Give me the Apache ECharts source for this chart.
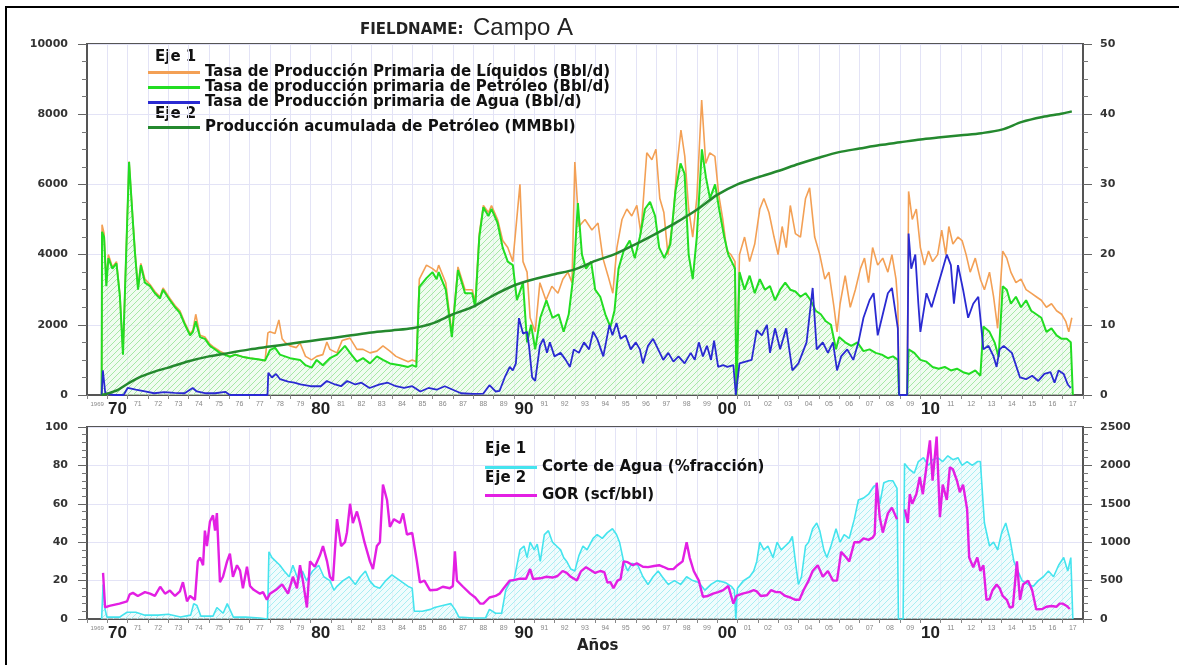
<!DOCTYPE html>
<html>
<head>
<meta charset="utf-8">
<script src="https://cdn.jsdelivr.net/npm/echarts@6/dist/echarts.min.js"></script>
<style>
  html, body { margin: 0; padding: 0; background: #fff; }
  #chart { width: 1179px; height: 665px; }
</style>
</head>
<body>
<div id="chart"></div>
<script>
// year labels on the x axis (one per year band)
var yearLabels = ['1969','70','71','72','73','74','75','76','77','78','79',
  '80','81','82','83','84','85','86','87','88','89',
  '90','91','92','93','94','95','96','97','98','99',
  '00','01','02','03','04','05','06','07','08','09',
  '10','11','12','13','14','15','16','17'];
var decadeLabels = ['70','80','90','00','10'];

// top chart, Eje 1 (Bbl/d): [year, value]
var liquidRate = [
  [1969.72,0],[1969.74,4850],[1969.84,4600],[1969.95,3200],[1970.05,4000],[1970.25,3650],[1970.45,3800],
  [1970.62,2850],[1970.77,1200],[1970.92,3950],[1971.07,6650],[1971.25,5050],[1971.36,4100],[1971.51,3050],
  [1971.65,3750],[1971.85,3300],[1972.10,3150],[1972.34,2950],[1972.59,2800],[1972.74,3050],[1973.08,2750],
  [1973.33,2550],[1973.57,2400],[1973.82,2050],[1974.07,1750],[1974.21,1850],[1974.35,2300],[1974.56,1700],
  [1974.80,1650],[1975.05,1450],[1975.20,1380],[1975.54,1250],[1976.03,1100],[1976.30,1150],[1976.70,1080],
  [1977.02,1050],[1977.40,1020],[1977.76,980],[1977.90,1770],[1978.00,1800],[1978.25,1750],[1978.44,2140],
  [1978.60,1600],[1978.74,1500],[1978.99,1400],[1979.30,1350],[1979.48,1480],[1979.75,1100],[1980.05,1000],
  [1980.30,1100],[1980.60,1150],[1980.80,1510],[1980.95,1300],[1981.30,1200],[1981.55,1550],[1981.94,1620],
  [1982.28,1300],[1982.58,1300],[1982.92,1200],[1983.26,1250],[1983.56,1400],[1983.90,1250],[1984.20,1100],
  [1984.40,1050],[1984.80,950],[1985.00,1000],[1985.20,950],[1985.35,3300],[1985.70,3700],[1986.00,3600],
  [1986.20,3500],[1986.30,3700],[1986.65,3200],[1986.95,1750],[1987.25,3650],[1987.60,3000],[1987.95,3000],
  [1988.10,2650],[1988.30,4600],[1988.50,5400],[1988.75,5200],[1988.90,5400],[1989.20,5000],[1989.45,4400],
  [1989.70,4200],[1989.95,3800],[1990.30,6000],[1990.45,3800],[1990.65,3500],[1990.80,2200],[1991.05,1800],
  [1991.28,3200],[1991.58,2700],[1991.87,3100],[1992.17,2900],[1992.41,3300],[1992.66,3500],[1992.86,3200],
  [1993.00,6640],[1993.20,4800],[1993.50,5000],[1993.84,4700],[1994.14,4900],[1994.38,3900],[1994.63,3400],
  [1994.87,2900],[1995.07,4200],[1995.32,5000],[1995.56,5300],[1995.80,5100],[1996.05,5400],[1996.25,4600],
  [1996.54,6900],[1996.79,6700],[1996.99,7000],[1997.18,5600],[1997.38,5200],[1997.58,4000],[1997.83,5000],
  [1998.02,6500],[1998.22,7550],[1998.41,6800],[1998.60,5300],[1998.80,4500],[1999.00,5600],[1999.24,8400],
  [1999.44,6600],[1999.64,6900],[1999.89,6800],[2000.08,5700],[2000.28,5000],[2000.48,4100],[2000.68,4000],
  [2000.88,3800],[2000.95,0],[2001.10,4000],[2001.35,4500],[2001.60,3800],[2001.85,4300],[2002.10,5300],
  [2002.30,5600],[2002.55,5200],[2002.80,4500],[2003.00,4000],[2003.20,4800],[2003.40,4200],[2003.60,5400],
  [2003.85,4600],[2004.10,4500],[2004.35,5600],[2004.55,5900],[2004.80,4500],[2005.05,4000],[2005.30,3300],
  [2005.50,3500],[2005.75,2500],[2005.90,1800],[2006.05,2600],[2006.30,3400],[2006.55,2500],[2006.80,3000],
  [2007.05,3600],[2007.25,3900],[2007.45,3200],[2007.65,4200],[2007.90,3700],[2008.15,3900],[2008.40,3500],
  [2008.60,4000],[2008.80,3300],[2008.89,2600],[2008.95,0],[2009.35,0],[2009.42,5800],[2009.60,5000],
  [2009.80,5300],[2010.00,4200],[2010.20,3700],[2010.40,4100],[2010.60,3800],[2010.85,4000],[2011.05,4700],
  [2011.25,4000],[2011.40,4800],[2011.60,4300],[2011.85,4500],[2012.05,4400],[2012.25,4000],[2012.45,3500],
  [2012.70,3900],[2012.95,3300],[2013.15,3000],[2013.40,3500],[2013.60,2800],[2013.80,1900],[2014.05,4100],
  [2014.25,3900],[2014.45,3500],[2014.70,3200],[2014.95,3300],[2015.20,3000],[2015.45,2900],[2015.70,2800],
  [2015.95,2700],[2016.20,2500],[2016.45,2600],[2016.70,2400],[2016.95,2300],[2017.15,2100],[2017.30,1800],
  [2017.45,2200]
];
var oilRate = [
  [1969.72,0],[1969.74,4650],[1969.84,4500],[1969.95,3100],[1970.05,3900],[1970.25,3600],[1970.45,3750],
  [1970.62,2800],[1970.77,1150],[1970.92,3900],[1971.07,6640],[1971.25,5000],[1971.36,4050],[1971.51,3000],
  [1971.65,3700],[1971.85,3200],[1972.10,3100],[1972.34,2900],[1972.59,2750],[1972.74,3000],[1973.08,2700],
  [1973.33,2500],[1973.57,2340],[1973.82,2000],[1974.07,1700],[1974.21,1800],[1974.35,2100],[1974.56,1650],
  [1974.80,1600],[1975.05,1400],[1975.20,1340],[1975.54,1200],[1976.03,1090],[1976.30,1150],[1976.70,1080],
  [1977.02,1050],[1977.40,1020],[1977.76,980],[1977.90,1150],[1978.00,1280],[1978.25,1350],[1978.49,1150],
  [1978.74,1100],[1978.99,1050],[1979.48,1000],[1979.75,850],[1980.05,780],[1980.30,1000],[1980.60,850],
  [1980.95,1050],[1981.30,1150],[1981.69,1400],[1981.94,1200],[1982.28,950],[1982.58,1050],[1982.92,900],
  [1983.26,1100],[1983.56,1000],[1983.90,900],[1984.40,850],[1984.80,800],[1985.00,850],[1985.20,800],
  [1985.35,3080],[1985.70,3330],[1986.00,3500],[1986.20,3300],[1986.30,3500],[1986.65,3000],[1986.95,1650],
  [1987.25,3560],[1987.60,2900],[1987.95,2900],[1988.10,2500],[1988.30,4500],[1988.50,5350],[1988.75,5100],
  [1988.90,5300],[1989.20,4900],[1989.45,4200],[1989.70,3800],[1989.95,3700],[1990.15,2700],[1990.45,3200],
  [1990.65,1500],[1990.85,2000],[1991.05,1300],[1991.30,2200],[1991.60,2700],[1991.90,2200],[1992.20,2300],
  [1992.45,1800],[1992.70,2300],[1992.95,3500],[1993.15,5470],[1993.35,4000],[1993.55,3600],[1993.80,3800],
  [1994.00,3000],[1994.25,2800],[1994.50,2300],[1994.75,1940],[1994.95,2400],[1995.15,3600],[1995.40,4100],
  [1995.70,4400],[1995.95,3900],[1996.20,4500],[1996.45,5300],[1996.70,5500],[1996.95,5100],[1997.15,4200],
  [1997.40,3900],[1997.70,4300],[1997.95,5800],[1998.20,6600],[1998.40,6300],[1998.60,4000],[1998.80,3300],
  [1999.00,4500],[1999.25,7000],[1999.45,6200],[1999.65,5600],[1999.90,6000],[2000.10,5300],[2000.35,4500],
  [2000.55,4000],[2000.80,3700],[2000.88,3600],[2000.95,0],[2001.10,3500],[2001.35,3000],[2001.60,3400],
  [2001.85,2900],[2002.10,3300],[2002.35,3000],[2002.60,3100],[2002.85,2700],[2003.10,3000],[2003.35,3200],
  [2003.60,3000],[2003.85,2950],[2004.10,2800],[2004.35,2900],[2004.60,2700],[2004.85,2400],[2005.10,2300],
  [2005.35,2100],[2005.60,2000],[2005.85,1300],[2006.00,1650],[2006.30,1500],[2006.60,1400],[2006.90,1500],
  [2007.20,1250],[2007.50,1300],[2007.80,1200],[2008.10,1150],[2008.40,1050],[2008.65,1100],[2008.89,1000],
  [2008.95,0],[2009.35,0],[2009.42,1300],[2009.70,1200],[2010.00,1000],[2010.30,950],[2010.60,800],
  [2010.90,750],[2011.20,800],[2011.50,700],[2011.80,750],[2012.10,650],[2012.40,600],[2012.70,700],
  [2012.95,550],[2013.10,1950],[2013.40,1800],[2013.65,1500],[2013.85,1080],[2014.05,3100],[2014.25,3000],
  [2014.45,2600],[2014.70,2800],[2014.95,2500],[2015.20,2700],[2015.45,2400],[2015.70,2300],[2015.95,2200],
  [2016.20,1800],[2016.45,1900],[2016.70,1700],[2016.95,1600],[2017.20,1600],[2017.40,1500],[2017.50,0]
];
var waterRate = [
  [1969.72,0],[1969.78,700],[1969.84,650],[1969.90,50],[1970.30,0],[1970.80,0],[1971.00,200],[1971.40,150],
  [1971.85,100],[1972.30,50],[1972.80,80],[1973.30,60],[1973.80,50],[1974.20,200],[1974.40,100],[1974.80,50],
  [1975.30,50],[1975.80,90],[1976.03,0],[1977.88,0],[1977.92,630],[1978.10,500],[1978.30,600],[1978.50,450],
  [1978.90,380],[1979.20,350],[1979.50,300],[1980.00,250],[1980.50,250],[1980.80,400],[1981.20,300],
  [1981.50,250],[1981.80,400],[1982.20,300],[1982.50,350],[1982.90,200],[1983.40,300],[1983.80,350],
  [1984.20,250],[1984.60,200],[1985.00,250],[1985.40,100],[1985.80,200],[1986.20,150],[1986.60,250],
  [1987.00,150],[1987.40,50],[1988.00,30],[1988.50,40],[1988.80,280],[1989.10,100],[1989.30,120],
  [1989.55,500],[1989.80,800],[1989.95,700],[1990.10,900],[1990.25,2190],[1990.45,1750],[1990.65,1800],
  [1990.75,1370],[1990.90,500],[1991.05,400],[1991.28,1400],[1991.45,1600],[1991.63,1200],[1991.77,1500],
  [1992.00,1100],[1992.30,1200],[1992.55,1000],[1992.76,800],[1992.95,1300],[1993.20,1200],[1993.45,1500],
  [1993.70,1300],[1993.90,1800],[1994.10,1600],[1994.40,1100],[1994.70,2000],[1994.85,1700],[1995.05,2050],
  [1995.25,1600],[1995.50,1700],[1995.75,1300],[1996.00,1500],[1996.20,1300],[1996.35,900],[1996.60,1400],
  [1996.85,1600],[1997.10,1300],[1997.35,1000],[1997.60,1200],[1997.85,950],[1998.10,1100],[1998.40,900],
  [1998.70,1200],[1998.90,1000],[1999.10,1500],[1999.30,1100],[1999.50,1400],[1999.70,1000],[1999.85,1550],
  [2000.05,800],[2000.30,850],[2000.50,800],[2000.80,850],[2000.92,0],[2001.10,900],[2001.40,950],
  [2001.70,1000],[2001.95,1850],[2002.20,1700],[2002.45,2000],[2002.60,1200],[2002.85,1900],[2003.10,1300],
  [2003.40,1900],[2003.70,700],[2004.00,900],[2004.40,1500],[2004.70,3050],[2004.90,1300],[2005.20,1500],
  [2005.45,1200],[2005.70,1500],[2005.90,700],[2006.10,1100],[2006.40,1300],[2006.70,1000],[2006.95,1500],
  [2007.20,2200],[2007.50,2700],[2007.70,2900],[2007.90,1700],[2008.15,2300],[2008.40,2900],[2008.60,3050],
  [2008.89,1900],[2008.95,0],[2009.35,0],[2009.42,4600],[2009.55,3600],[2009.75,4000],[2009.90,2600],
  [2010.00,1800],[2010.30,2900],[2010.55,2500],[2010.80,3000],[2011.10,3600],[2011.30,4000],[2011.50,3700],
  [2011.65,2600],[2011.85,3700],[2012.10,3000],[2012.35,2200],[2012.60,2600],[2012.85,2800],[2013.10,1300],
  [2013.35,1400],[2013.60,1100],[2013.75,800],[2013.90,1300],[2014.10,1400],[2014.50,1200],[2014.90,500],
  [2015.20,450],[2015.50,550],[2015.80,400],[2016.10,600],[2016.40,650],[2016.60,350],[2016.80,700],
  [2017.05,600],[2017.25,300],[2017.40,200]
];
// top chart, Eje 2 (MMBbl)
var cumOil = [
  [1969.72,0],[1970.00,0.2],[1970.50,0.7],[1971.00,1.6],[1971.50,2.4],[1972.00,3.0],[1972.50,3.5],[1973.00,3.9],
  [1974.00,4.8],[1975.00,5.5],[1976.00,6.0],[1977.00,6.5],[1978.00,6.9],[1979.00,7.3],[1980.00,7.7],
  [1981.00,8.1],[1982.00,8.5],[1983.00,8.9],[1984.00,9.2],[1985.00,9.5],[1986.00,10.2],[1987.00,11.5],
  [1988.00,12.6],[1989.00,14.2],[1990.00,15.6],[1991.00,16.5],[1992.00,17.2],[1993.00,17.9],[1994.00,19.1],
  [1995.00,20.1],[1996.00,21.5],[1997.00,23.0],[1998.00,24.6],[1999.00,26.4],[2000.00,28.5],[2001.00,30.0],
  [2002.00,31.0],[2003.00,31.9],[2004.00,32.9],[2005.00,33.8],[2006.00,34.6],[2007.00,35.1],[2008.00,35.6],
  [2009.00,36.0],[2010.00,36.4],[2011.00,36.7],[2012.00,37.0],[2013.00,37.3],[2014.00,37.8],[2015.00,38.9],
  [2016.00,39.6],[2017.00,40.1],[2017.45,40.4]
];

// bottom chart, Eje 1 (%)
var waterCut = [
  [1969.72,0],[1969.79,18],[1969.89,5],[1969.98,1],[1970.60,1],[1970.97,3.5],[1971.40,3.5],[1971.85,2],
  [1972.50,2],[1973.00,2.5],[1973.60,1],[1974.10,2],[1974.25,8],[1974.41,7],[1974.60,1.5],[1975.20,1.5],
  [1975.39,6],[1975.70,3],[1975.90,8],[1976.20,1],[1976.80,1],[1977.50,0.5],[1977.88,0],[1977.95,35],
  [1978.10,32],[1978.49,28],[1978.70,25],[1978.95,22],[1979.13,28],[1979.40,20],[1979.60,25],[1979.80,20],
  [1980.10,25],[1980.40,28],[1980.65,22],[1980.95,20],[1981.15,15],[1981.30,17],[1981.60,20],[1981.90,22],
  [1982.20,18],[1982.45,22],[1982.70,25],[1982.90,20],[1983.15,17],[1983.40,16],[1983.70,20],[1984.00,23],
  [1984.40,20],[1984.80,17],[1985.00,16],[1985.10,4],[1985.50,4],[1985.90,5],[1986.10,6],[1986.50,7],
  [1986.90,8],[1987.10,5],[1987.30,1],[1988.00,0.5],[1988.60,0.5],[1988.80,5],[1989.10,3],[1989.40,3],
  [1989.60,15],[1989.85,20],[1990.00,20],[1990.30,36],[1990.50,38],[1990.65,32],[1990.80,40],[1991.00,36],
  [1991.15,39],[1991.30,30],[1991.50,44],[1991.70,46],[1991.90,40],[1992.10,38],[1992.30,36],[1992.45,32],
  [1992.60,30],[1992.80,26],[1993.00,25],[1993.20,33],[1993.40,38],[1993.60,36],[1993.90,42],[1994.10,44],
  [1994.35,42],[1994.60,45],[1994.85,47],[1995.05,44],[1995.20,40],[1995.40,30],[1995.60,25],[1995.80,29],
  [1996.10,28],[1996.35,22],[1996.60,18],[1996.85,22],[1997.10,25],[1997.30,22],[1997.60,18],[1997.90,20],
  [1998.20,18],[1998.50,22],[1998.80,20],[1999.10,19],[1999.40,15],[1999.70,18],[2000.00,20],[2000.40,19],
  [2000.70,17],[2000.85,15],[2000.92,0],[2001.00,16],[2001.30,20],[2001.60,22],[2001.80,25],[2001.95,30],
  [2002.10,40],[2002.30,36],[2002.50,38],[2002.75,32],[2002.95,40],[2003.15,36],[2003.35,38],[2003.55,40],
  [2003.70,43],[2003.85,30],[2004.00,18],[2004.15,22],[2004.35,38],[2004.50,40],[2004.70,47],[2004.90,50],
  [2005.05,46],[2005.25,36],[2005.40,32],[2005.60,38],[2005.85,47],[2006.05,40],[2006.25,44],[2006.50,42],
  [2006.75,52],[2006.95,62],[2007.20,63],[2007.45,65],[2007.70,69],[2007.85,70],[2008.00,60],[2008.20,71],
  [2008.45,72],[2008.65,72],[2008.85,68],[2008.92,0],[2009.15,0],[2009.22,81],[2009.45,78],[2009.70,76],
  [2009.90,82],[2010.15,84],[2010.40,80],[2010.60,83],[2010.85,84],[2011.10,82],[2011.35,85],[2011.60,83],
  [2011.85,84],[2012.05,80],[2012.30,82],[2012.55,80],[2012.80,82],[2012.95,82],[2013.15,50],[2013.40,38],
  [2013.60,40],[2013.80,36],[2014.00,45],[2014.20,50],[2014.40,42],[2014.60,30],[2014.80,25],[2015.00,20],
  [2015.30,18],[2015.55,17],[2015.80,20],[2016.05,22],[2016.30,25],[2016.55,22],[2016.80,28],[2017.05,32],
  [2017.25,25],[2017.40,32],[2017.50,0]
];
// bottom chart, Eje 2 (scf/bbl)
var gor = [
  [1969.79,600],[1969.89,150],[1970.10,170],[1970.60,200],[1970.97,230],[1971.10,320],[1971.26,340],
  [1971.50,300],[1971.85,350],[1972.10,330],[1972.34,300],[1972.60,420],[1972.84,330],[1973.08,370],
  [1973.33,300],[1973.57,360],[1973.72,480],[1973.92,230],[1974.07,300],[1974.31,250],[1974.45,750],
  [1974.56,800],[1974.71,700],[1974.80,1150],[1974.90,950],[1975.05,1270],[1975.20,1350],[1975.30,1150],
  [1975.39,1380],[1975.54,480],[1975.69,550],[1975.89,750],[1976.03,850],[1976.18,550],[1976.38,700],
  [1976.53,630],[1976.67,400],[1976.87,680],[1977.02,430],[1977.20,380],[1977.51,330],[1977.66,350],
  [1977.85,250],[1978.00,330],[1978.30,380],[1978.60,450],[1978.89,330],[1979.13,550],[1979.33,400],
  [1979.48,700],[1979.62,500],[1979.82,150],[1979.97,750],[1980.21,680],[1980.46,830],[1980.61,950],
  [1980.81,750],[1980.95,550],[1981.10,500],[1981.30,1300],[1981.50,950],[1981.69,1000],[1981.79,1130],
  [1981.94,1500],[1982.08,1250],[1982.28,1400],[1982.43,1250],[1982.65,1000],[1982.92,750],[1983.07,650],
  [1983.26,950],[1983.41,1000],[1983.56,1750],[1983.76,1550],[1983.90,1200],[1984.10,1300],[1984.40,1250],
  [1984.55,1375],[1984.74,1100],[1985.00,1120],[1985.23,750],[1985.38,475],[1985.60,500],[1985.87,375],
  [1986.20,380],[1986.50,420],[1986.85,400],[1987.00,430],[1987.10,880],[1987.20,500],[1987.50,420],
  [1987.85,330],[1988.10,280],[1988.35,200],[1988.50,200],[1988.80,280],[1989.10,300],[1989.30,330],
  [1989.50,400],[1989.80,500],[1990.05,510],[1990.30,525],[1990.60,525],[1990.80,650],[1990.95,520],
  [1991.30,530],[1991.60,550],[1991.90,540],[1992.15,560],[1992.40,625],[1992.60,600],[1992.80,550],
  [1993.10,500],[1993.30,620],[1993.55,675],[1993.75,640],[1994.00,600],[1994.25,625],[1994.45,610],
  [1994.60,475],[1994.75,480],[1994.90,400],[1995.10,500],[1995.25,520],[1995.40,750],[1995.60,740],
  [1995.85,700],[1996.05,725],[1996.35,680],[1996.60,675],[1996.90,690],[1997.15,700],[1997.35,680],
  [1997.60,650],[1997.85,650],[1998.05,700],[1998.30,750],[1998.50,1000],[1998.65,800],[1998.85,625],
  [1999.10,500],[1999.30,290],[1999.55,300],[1999.80,330],[2000.05,350],[2000.30,375],[2000.55,430],
  [2000.80,200],[2000.95,300],[2001.25,330],[2001.55,350],[2001.80,375],[2001.95,360],[2002.15,300],
  [2002.45,310],[2002.65,375],[2002.90,350],[2003.10,350],[2003.35,300],[2003.60,280],[2003.85,250],
  [2004.05,250],[2004.25,375],[2004.50,500],[2004.70,625],[2004.95,700],[2005.20,550],[2005.45,625],
  [2005.70,500],[2005.90,500],[2006.10,875],[2006.35,800],[2006.50,750],[2006.75,1000],[2007.00,1000],
  [2007.20,1050],[2007.45,1030],[2007.65,1060],[2007.75,1100],[2007.85,1775],[2008.00,1325],[2008.15,1125],
  [2008.40,1375],[2008.60,1450],[2008.85,1300],[2008.88,null],[2009.20,null],[2009.24,1425],[2009.38,1250],
  [2009.48,1625],[2009.60,1500],[2009.80,1625],[2009.97,1850],[2010.12,1625],[2010.32,2025],[2010.47,2325],
  [2010.60,1800],[2010.80,2375],[2010.96,1325],[2011.10,1750],[2011.30,1550],[2011.45,1975],[2011.60,1950],
  [2011.80,1800],[2011.94,1650],[2012.10,1750],[2012.30,1425],[2012.40,800],[2012.60,675],[2012.80,800],
  [2012.95,625],[2013.10,700],[2013.25,250],[2013.40,260],[2013.55,375],[2013.75,450],[2013.90,400],
  [2014.05,300],[2014.25,250],[2014.40,150],[2014.55,160],[2014.75,750],[2014.90,250],[2015.05,450],
  [2015.30,500],[2015.50,375],[2015.70,125],[2016.00,130],[2016.20,160],[2016.45,170],[2016.70,160],
  [2016.85,200],[2017.00,200],[2017.20,170],[2017.35,130]
];

function hatch(lineColor, bgColor) {
  var c = document.createElement('canvas');
  c.width = 6; c.height = 6;
  var g = c.getContext('2d');
  g.fillStyle = bgColor;
  g.fillRect(0, 0, 6, 6);
  g.strokeStyle = lineColor;
  g.lineWidth = 1;
  g.beginPath();
  g.moveTo(0, 6); g.lineTo(6, 0);
  g.moveTo(-1, 1); g.lineTo(1, -1);
  g.moveTo(5, 7); g.lineTo(7, 5);
  g.stroke();
  return c;
}

var C_LIQ = '#f3a055', C_OIL = '#22dd22', C_WAT = '#2a2ad2', C_CUM = '#24892e';
var C_CUT = '#45e4ee', C_GOR = '#e31fe3';
var FONT = 'Liberation Sans';
var WIDE = 'DejaVu Sans';

function yearLabel(v) {
  if (v === '1969') return '{tiny|1969}';
  return decadeLabels.indexOf(v) >= 0 ? '{big|' + v + '}' : '{small|' + v + '}';
}

function bandAxis(grid) {
  return {
    type: 'category', gridIndex: grid, data: yearLabels, boundaryGap: true, position: 'bottom',
    axisLine: { show: true, lineStyle: { color: '#555', width: 2 } },
    axisTick: { show: true, interval: 0, length: 4, lineStyle: { color: '#888' } },
    splitLine: { show: true, interval: 0, lineStyle: { color: '#e3e3f6', width: 1 } },
    axisLabel: {
      interval: 0, margin: 5, formatter: yearLabel,
      rich: {
        tiny: { fontSize: 6, color: '#888', fontFamily: FONT, lineHeight: 8 },
        small: { fontSize: 7, color: '#888', fontFamily: FONT, lineHeight: 8 },
        big: { fontSize: 17, fontWeight: 'bold', color: '#222', fontFamily: FONT, lineHeight: 18 }
      }
    }
  };
}

function valueX(grid) {
  return { type: 'value', gridIndex: grid, min: 1969, max: 2018, show: false };
}

function yAx(grid, pos, max, step, split, minors) {
  return {
    type: 'value', gridIndex: grid, position: pos, min: 0, max: max, interval: step,
    axisLine: { show: true, lineStyle: { color: '#555', width: 2 } },
    axisTick: { show: true, length: 9, lineStyle: { color: '#666' } },
    minorTick: { show: true, splitNumber: minors, length: 5, lineStyle: { color: '#777' } },
    splitLine: { show: split, lineStyle: { color: '#e3e3f6' } },
    axisLabel: { margin: pos === 'left' ? 19 : 17, fontFamily: WIDE, fontWeight: 'bold',
      fontSize: 11, color: '#333', showMinLabel: true, showMaxLabel: true,
      formatter: function (v) { return String(v); } }
  };
}

var legendText = { fontFamily: WIDE, fontWeight: 'bold', fontSize: 15, color: '#111', lineHeight: 14.5 };
function legendAt(left, top, names, colors) {
  return {
    left: left, top: top, orient: 'vertical', icon: 'rect', itemWidth: 52, itemHeight: 3,
    itemGap: 0, padding: 0, selectedMode: false, textStyle: legendText,
    data: names.map(function (n, i) { return { name: n, itemStyle: { color: colors[i] } }; })
  };
}

function headText(x, y, text) {
  return { type: 'text', left: x, top: y, silent: true,
    style: { text: text, fill: '#111', font: 'bold 15px "DejaVu Sans"' } };
}

var N_LIQ = 'Tasa de Producción Primaria de Líquidos (Bbl/d)';
var N_OIL = 'Tasa de producción primaria de Petróleo (Bbl/d)';
var N_WAT = 'Tasa de Producción primaria de Agua (Bbl/d)';
var N_CUM = 'Producción acumulada de Petróleo (MMBbl)';
var N_CUT = 'Corte de Agua (%fracción)';
var N_GOR = 'GOR (scf/bbl)';

var option = {
  animation: false,
  backgroundColor: '#fff',
  textStyle: { fontFamily: FONT },
  grid: [
    { left: 87, top: 44, width: 996, height: 351, show: true, borderColor: '#555', borderWidth: 2, backgroundColor: 'transparent' },
    { left: 87, top: 427, width: 996, height: 192, show: true, borderColor: '#555', borderWidth: 2, backgroundColor: 'transparent' }
  ],
  xAxis: [valueX(0), bandAxis(0), valueX(1), bandAxis(1)],
  yAxis: [
    yAx(0, 'left', 10000, 2000, true, 4),
    yAx(0, 'right', 50, 10, false, 4),
    yAx(1, 'left', 100, 20, true, 5),
    yAx(1, 'right', 2500, 500, false, 5)
  ],
  legend: [
    legendAt(148, 65, [N_LIQ, N_OIL, N_WAT], [C_LIQ, C_OIL, C_WAT]),
    legendAt(148, 120, [N_CUM], [C_CUM]),
    legendAt(485, 460, [N_CUT], [C_CUT]),
    legendAt(485, 488, [N_GOR], [C_GOR])
  ],
  graphic: [
    { type: 'rect', silent: true, z: -1, shape: { x: 6, y: 7, width: 1200, height: 700 },
      style: { fill: 'none', stroke: '#000', lineWidth: 2 } },
    { type: 'text', left: 360, top: 23, silent: true,
      style: { text: 'FIELDNAME:', fill: '#222', font: 'bold 15px "DejaVu Sans"' } },
    { type: 'text', left: 473, top: 16, silent: true,
      style: { text: 'Campo A', fill: '#222', font: '24px "Liberation Sans"' } },
    headText(155, 50, 'Eje 1'),
    headText(155, 107, 'Eje 2'),
    headText(485, 442, 'Eje 1'),
    headText(485, 471, 'Eje 2'),
    { type: 'text', left: 577, top: 639, silent: true,
      style: { text: 'Años', fill: '#222', font: 'bold 15px "DejaVu Sans"' } }
  ],
  series: [
    { name: N_LIQ, type: 'line', xAxisIndex: 0, yAxisIndex: 0, data: liquidRate, symbol: 'none',
      color: C_LIQ, lineStyle: { color: C_LIQ, width: 1.6 } },
    { name: N_OIL, type: 'line', xAxisIndex: 0, yAxisIndex: 0, data: oilRate, symbol: 'none',
      color: C_OIL, lineStyle: { color: C_OIL, width: 2 },
      areaStyle: { color: { image: hatch('#a6e8a6', 'rgba(230,250,230,0.6)'), repeat: 'repeat' }, opacity: 1 } },
    { name: N_WAT, type: 'line', xAxisIndex: 0, yAxisIndex: 0, data: waterRate, symbol: 'none',
      color: C_WAT, lineStyle: { color: C_WAT, width: 1.8 } },
    { name: N_CUM, type: 'line', xAxisIndex: 0, yAxisIndex: 1, data: cumOil, symbol: 'none', smooth: 0.3,
      color: C_CUM, lineStyle: { color: C_CUM, width: 2.5 } },
    { name: N_CUT, type: 'line', xAxisIndex: 2, yAxisIndex: 2, data: waterCut, symbol: 'none',
      color: C_CUT, lineStyle: { color: C_CUT, width: 1.6 },
      areaStyle: { color: { image: hatch('#a9eef2', 'rgba(230,250,252,0.6)'), repeat: 'repeat' }, opacity: 1 } },
    { name: N_GOR, type: 'line', xAxisIndex: 2, yAxisIndex: 3, data: gor, symbol: 'none', connectNulls: false,
      color: C_GOR, lineStyle: { color: C_GOR, width: 2.4 } }
  ]
};

echarts.init(document.getElementById('chart'), null, { renderer: 'canvas' }).setOption(option);
</script>
</body>
</html>
